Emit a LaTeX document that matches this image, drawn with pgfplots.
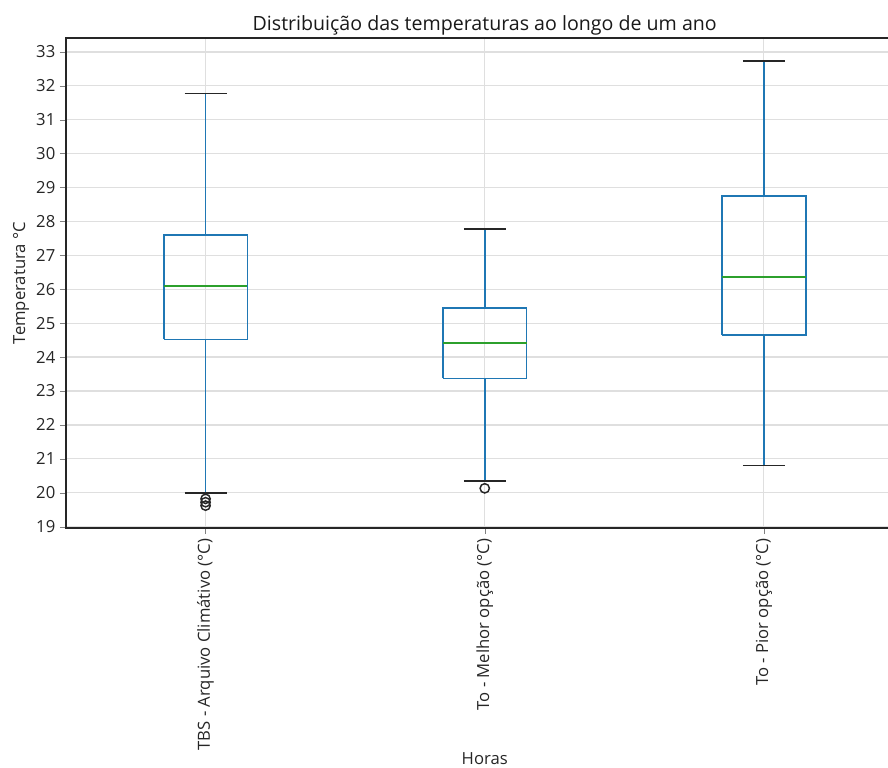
\documentclass[border=0pt]{standalone}
\usepackage{pgfplots}
\pgfplotsset{compat=1.18}
\usepackage{fontspec}
\setmainfont{Open Sans}
\definecolor{cz}{RGB}{31,119,180}
\definecolor{ct}{RGB}{44,160,44}
\pgfplotsset{
  boxl/.style={cz, line width=1.3pt, no markers},
  medl/.style={ct, line width=1.3pt, no markers},
  capl/.style={black!85, line width=1.3pt, no markers},
  flier/.style={only marks, mark=o, mark size=3.5pt, mark options={draw=black!85, line width=1.1pt}},
}
\begin{document}
\begin{tikzpicture}
\clip (-49.5pt,-179.25pt) rectangle (616.5pt,396pt);
\begin{axis}[
  at={(0,0)}, anchor=south west,
  scale only axis, width=628.1pt, height=367.5pt,
  xmin=0.5, xmax=3.5, ymin=18.96, ymax=33.41,
  xtick={1,2,3},
  xticklabels={TBS - Arquivo Climátivo (°C), To - Melhor opção (°C), To - Pior opção (°C)},
  ytick={19,20,...,33},
  /pgf/number format/assume math mode=true,
  tick label style={font=\fontsize{12.5}{15}\selectfont, text=black!85},
  xticklabel style={rotate=90, anchor=east},
  tick align=outside, major tick length=4.5pt,
  xtick pos=bottom, ytick pos=left,
  grid=major, major grid style={gray!25, line width=0.9pt},
  axis line style={black!85, line width=1pt},
  title={Distribuição das temperaturas ao longo de um ano},
  title style={font=\fontsize{14.7}{17}\selectfont, text=black!90, yshift=-7.5pt},
  xlabel={Horas}, ylabel={Temperatura °C},
  label style={font=\fontsize{12.5}{15}\selectfont, text=black!85},
  xlabel style={yshift=5pt},
  ylabel style={yshift=-1.5pt},
]
% --- TBS - Arquivo Climativo
\addplot[boxl] coordinates {(0.85,24.52) (1.15,24.52) (1.15,27.6) (0.85,27.6) (0.85,24.52)};
\addplot[boxl] coordinates {(1,24.52) (1,20.0)};
\addplot[boxl] coordinates {(1,27.6) (1,31.77)};
\addplot[medl] coordinates {(0.85,26.1) (1.15,26.1)};
\addplot[capl] coordinates {(0.925,20.0) (1.075,20.0)};
\addplot[capl] coordinates {(0.925,31.77) (1.075,31.77)};
\addplot[flier] coordinates {(1,19.82) (1,19.72) (1,19.62)};
% --- To - Melhor opcao
\addplot[boxl] coordinates {(1.85,23.37) (2.15,23.37) (2.15,25.44) (1.85,25.44) (1.85,23.37)};
\addplot[boxl] coordinates {(2,23.37) (2,20.35)};
\addplot[boxl] coordinates {(2,25.44) (2,27.78)};
\addplot[medl] coordinates {(1.85,24.42) (2.15,24.42)};
\addplot[capl] coordinates {(1.925,20.35) (2.075,20.35)};
\addplot[capl] coordinates {(1.925,27.78) (2.075,27.78)};
\addplot[flier] coordinates {(2,20.13)};
% --- To - Pior opcao
\addplot[boxl] coordinates {(2.85,24.65) (3.15,24.65) (3.15,28.76) (2.85,28.76) (2.85,24.65)};
\addplot[boxl] coordinates {(3,24.65) (3,20.8)};
\addplot[boxl] coordinates {(3,28.76) (3,32.73)};
\addplot[medl] coordinates {(2.85,26.36) (3.15,26.36)};
\addplot[capl] coordinates {(2.925,20.8) (3.075,20.8)};
\addplot[capl] coordinates {(2.925,32.73) (3.075,32.73)};
\end{axis}
\end{tikzpicture}
\end{document}
